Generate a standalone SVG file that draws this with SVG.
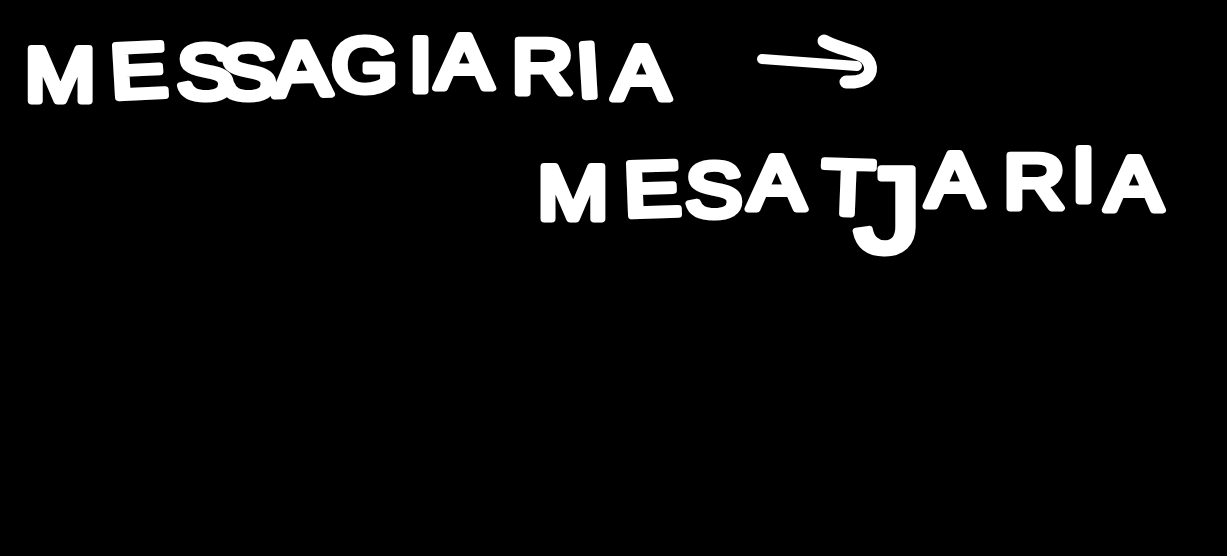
<svg xmlns="http://www.w3.org/2000/svg" width="1227" height="556" viewBox="0 0 1227 556">
<style>
.t{font-family:"Liberation Sans",Arial,sans-serif;font-size:76px;font-weight:400;fill:#fff;stroke:#fff;stroke-width:7px;stroke-linejoin:round;stroke-linecap:round}
.j{font-size:120px}
.a{fill:none;stroke:#fff;stroke-linecap:round;stroke-linejoin:round}
</style>
<rect width="1227" height="556" fill="#000"/>
<g id="source"><text class="t" transform="scale(1.12 1)" x="22 100 158 196 245 296 365 389 457 516 547" y="101 98 98 98 96 91 91 88 93 97 99" rotate="0 -3 0 0 -2 0 0 0 0 -3 0">MESSAGIARIA</text></g>
<g id="target"><text class="t" transform="scale(1.12 1)" x="480 558 612 668 733 763 827 896 957 987" y="219 216 216 209 213 252 206 208 201 210" rotate="0 -2 0 0 2 0 0 0 0 0">MESAT<tspan class="j">J</tspan>ARIA</text></g>
<g id="connectors"><path class="a" stroke-width="10" d="M762 59L857 66"/><path class="a" stroke-width="13" d="M824 41C840 50 856 50 866 58C873 66 872 76 862 80C856 83 850 82 846 82"/></g>
</svg>
